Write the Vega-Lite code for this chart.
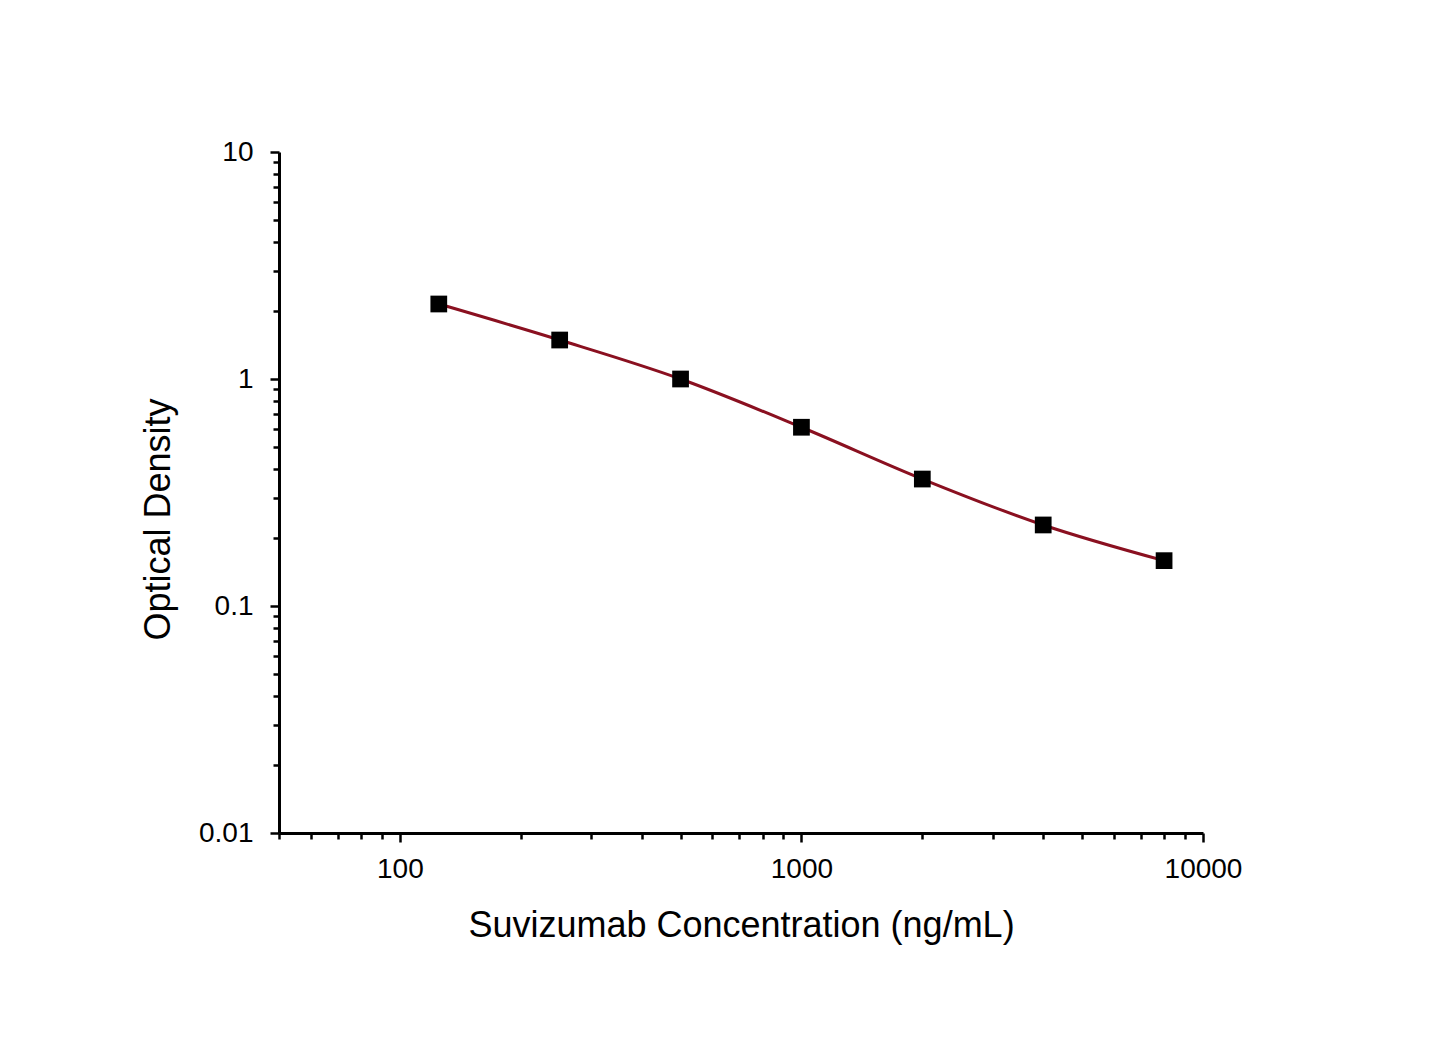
{
  "$schema": "https://vega.github.io/schema/vega-lite/v6.json",
  "autosize": "none",
  "padding": {"left": 279, "top": 152, "right": 237, "bottom": 213},
  "width": 924,
  "height": 681,
  "background": "white",
  "config": {
    "view": {"stroke": null},
    "font": "Liberation Sans",
    "axis": {
      "domainColor": "black",
      "domainWidth": 3,
      "tickColor": "black",
      "tickWidth": 2.5,
      "grid": false,
      "labelColor": "black",
      "titleColor": "black",
      "labelFont": "Liberation Sans",
      "titleFont": "Liberation Sans",
      "labelFontSize": 28,
      "titleFontSize": 36,
      "titleFontWeight": "normal"
    }
  },
  "data": {
    "values": [
      {"conc": 125, "od": 2.14},
      {"conc": 250, "od": 1.485},
      {"conc": 500, "od": 1.0},
      {"conc": 1000, "od": 0.613},
      {"conc": 2000, "od": 0.3625},
      {"conc": 4000, "od": 0.2275},
      {"conc": 8000, "od": 0.1584}
    ]
  },
  "encoding": {
    "x": {
      "field": "conc",
      "type": "quantitative",
      "scale": {"type": "log", "domain": [50, 10000], "nice": false},
      "axis": {
        "title": "Suvizumab Concentration (ng/mL)",
        "values": [50, 60, 70, 80, 90, 100, 200, 300, 400, 500, 600, 700, 800, 900, 1000, 2000, 3000, 4000, 5000, 6000, 7000, 8000, 9000, 10000],
        "format": "~g",
        "labelExpr": "indexof([100, 1000, 10000], datum.value) >= 0 ? datum.label : ''",
        "tickSize": {"condition": {"test": "indexof([100, 1000, 10000], datum.value) >= 0", "value": 9}, "value": 6},
        "labelPadding": 13,
        "labelFlush": false,
        "labelOverlap": false,
        "titleY": 92,
        "titleBaseline": "middle"
      }
    },
    "y": {
      "field": "od",
      "type": "quantitative",
      "scale": {"type": "log", "domain": [0.01, 10], "nice": false},
      "axis": {
        "title": "Optical Density",
        "values": [0.01, 0.02, 0.03, 0.04, 0.05, 0.06, 0.07, 0.08, 0.09, 0.1, 0.2, 0.3, 0.4, 0.5, 0.6, 0.7, 0.8, 0.9, 1, 2, 3, 4, 5, 6, 7, 8, 9, 10],
        "format": "~g",
        "labelExpr": "indexof([0.01, 0.1, 1, 10], datum.value) >= 0 ? datum.label : ''",
        "tickSize": {"condition": {"test": "indexof([0.01, 0.1, 1, 10], datum.value) >= 0", "value": 9}, "value": 6},
        "labelPadding": 17,
        "labelFlush": false,
        "labelOverlap": false,
        "titleAngle": -90,
        "titleX": -121,
        "titleY": 367,
        "titleAlign": "center",
        "titleBaseline": "middle"
      }
    }
  },
  "layer": [
    {
      "mark": {"type": "line", "interpolate": "monotone", "color": "#8a1020", "strokeWidth": 3}
    },
    {
      "mark": {"type": "point", "shape": "square", "filled": true, "color": "black", "opacity": 1, "size": 280}
    }
  ]
}
